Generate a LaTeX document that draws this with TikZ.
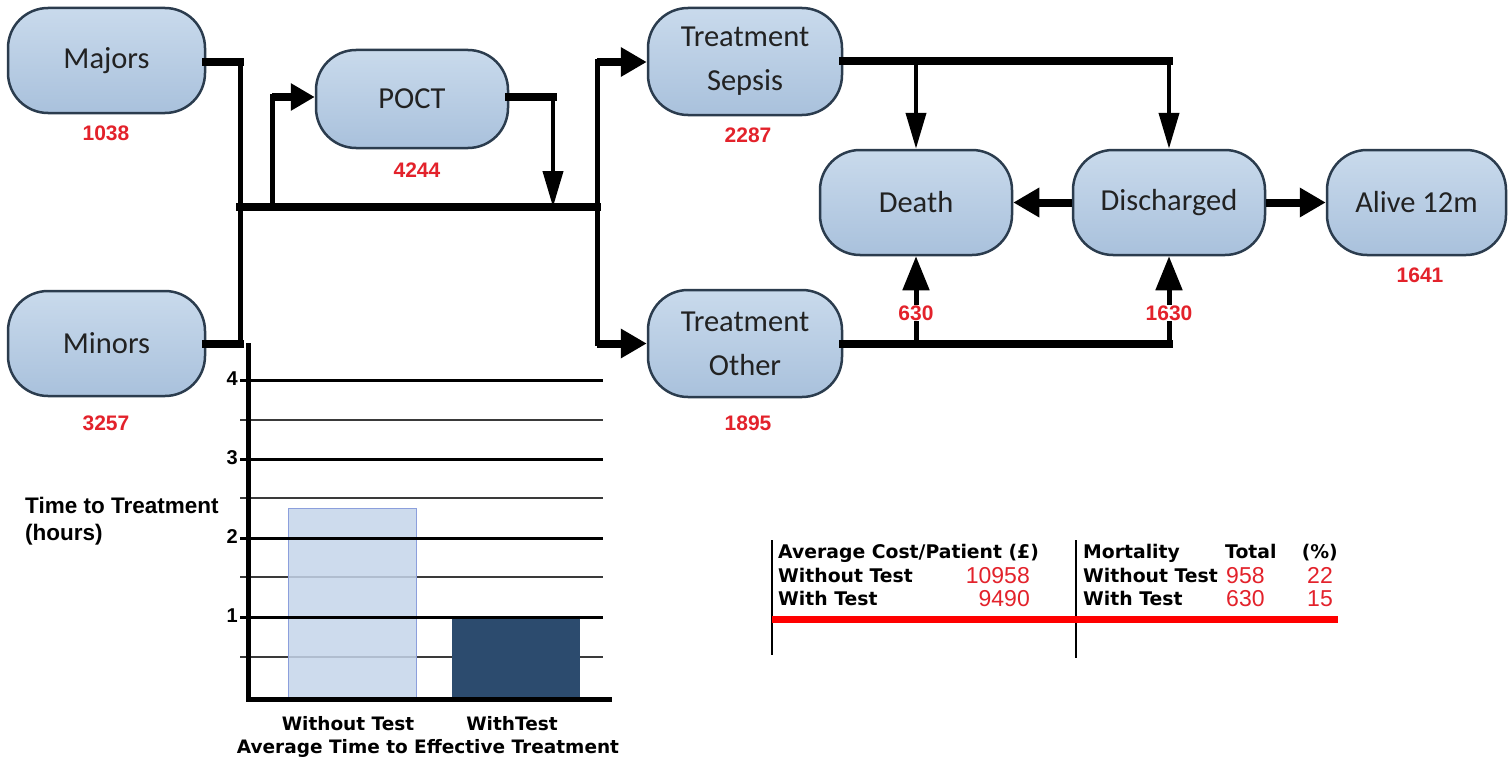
\documentclass[tikz,border=0pt]{standalone}
\usepackage{fontspec}
\setmainfont{Carlito}
\newfontfamily\numfont{Liberation Sans}
\newfontfamily\verdfont{DejaVu Sans}
\usetikzlibrary{arrows.meta}
\definecolor{boxtop}{HTML}{C9DAEC}
\definecolor{boxbot}{HTML}{A9C1DC}
\definecolor{boxline}{HTML}{2B3C4E}
\definecolor{rednum}{HTML}{E3222B}
\definecolor{barlight}{HTML}{C5D5EA}
\definecolor{barlightedge}{HTML}{8C9FDC}
\definecolor{bardark}{HTML}{2C4B6E}
\definecolor{txtdark}{HTML}{222222}
\definecolor{minorgrid}{HTML}{3A3A3A}
\begin{document}
\begin{tikzpicture}[x=1pt,y=-1pt,
  flowbox/.style={draw=boxline, line width=2.5pt, rounded corners=40pt, top color=boxtop, bottom color=boxbot,
    minimum width=195pt, minimum height=105pt, inner sep=0pt, align=center, text=txtdark,
    font=\fontsize{30.5}{44}\selectfont},
  count/.style={text=rednum, font=\numfont\bfseries\fontsize{21}{23}\selectfont, inner sep=1pt},
  hline/.style={line width=8pt, line cap=rect},
  vline/.style={line width=5pt, line cap=rect},
  thickarrow/.style={line width=8pt, -{Triangle[length=26pt,width=28pt]}},
  thinarrow/.style={line width=4pt, -{Triangle[length=36pt,width=20pt]}},
  uparrow/.style={line width=5pt, -{Triangle[length=34pt,width=26pt]}},
  majgrid/.style={line width=3pt},
  mingrid/.style={line width=1.3pt, draw=minorgrid},
  ticklab/.style={font=\numfont\bfseries\fontsize{20}{22}\selectfont, anchor=east, inner sep=1pt},
  chartlab/.style={font=\verdfont\bfseries\fontsize{18.5}{21}\selectfont, inner sep=0pt},
  tabtxt/.style={font=\verdfont\bfseries\fontsize{18.8}{21}\selectfont, inner sep=0pt, anchor=base west},
  tabnum/.style={font=\numfont\fontsize{23}{24}\selectfont, text=rednum, inner sep=0pt},
]
\useasboundingbox (0,0) rectangle (1508,760);
\fill[white] (0,0) rectangle (1508,760);

% ---------- nodes ----------
\node[flowbox, minimum width=197pt] (maj) at (106.5,60.5) {Majors};
\node[flowbox, minimum width=197pt] (min) at (106.5,343.5) {Minors};
\node[flowbox, minimum width=192pt, minimum height=98pt] (poct) at (412,99) {POCT};
\node[flowbox, minimum width=194pt, minimum height=107pt] (sep) at (745,61.5) {Treatment\\Sepsis};
\node[flowbox, minimum width=194pt, minimum height=107pt] (oth) at (745,343.5) {Treatment\\Other};
\node[flowbox, minimum width=192pt] (dea) at (916,202.5) {Death};
\node[flowbox, minimum width=192pt] (dis) at (1169,202.5) {Discharged};
\node[flowbox, minimum width=179pt] (alv) at (1416.5,202.5) {Alive 12m};

\node[count] (cmaj) at (106,133) {1038};
\node[count] (cmin) at (106,423) {3257};
\node[count] (cpoct) at (417,170) {4244};
\node[count] (csep) at (748,135) {2287};
\node[count] (coth) at (748,423) {1895};
\node[count] (calv) at (1420,275) {1641};

% ---------- junctions ----------
\coordinate (a1) at (240,62);
\coordinate (a2) at (240,343.5);
\coordinate (b1) at (240,207);
\coordinate (b2) at (597,207);
\coordinate (p1) at (272,207);
\coordinate (p2) at (272,97);
\coordinate (q1) at (553,97);
\coordinate (q2) at (553,207);
\coordinate (s1) at (597,62);
\coordinate (s2) at (597,343.5);
\coordinate (d1) at (dea.north |- sep.east);
\coordinate (e1) at (dis.north |- sep.east);
\coordinate (d2) at (dea.south |- oth.east);
\coordinate (e2) at (dis.south |- oth.east);

% ---------- connectors ----------
\draw[hline] (maj.east |- a1) -- (a1);
\draw[hline] (min.east) -- (a2);
\draw[vline] (a1) -- (a2);
\draw[hline] (b1) -- (b2);
\draw[vline] (p1) -- (p2);
\draw[line width=7pt, -{Triangle[length=24pt,width=26pt]}] (p2) -- (poct.west |- p2);
\draw[hline] (poct.east |- q1) -- (q1);
\draw[thinarrow] (q1) -- (q2);
\draw[vline] (s1) -- (s2);
\draw[thickarrow] (s1) -- (sep.west |- s1);
\draw[thickarrow] (s2) -- (oth.west);

\draw[hline] (sep.east) -- (e1);
\draw[thinarrow] (d1) -- (dea.north);
\draw[thinarrow] (e1) -- (dis.north);
\draw[hline] (oth.east) -- (e2);
\draw[uparrow] (d2) -- (dea.south) node[count, fill=white, pos=0.35] (c630) {630};
\draw[uparrow] (e2) -- (dis.south) node[count, fill=white, pos=0.35] (c1630) {1630};
\draw[thickarrow] (dis.west) -- (dea.east);
\draw[thickarrow] (dis.east) -- (alv.west);

% ---------- chart ----------
\foreach \yy in {420,498,577,657} \draw[mingrid] (240,\yy) -- (603,\yy);
\fill[bardark] (452,617) rectangle (580,697);
\draw[barlightedge, line width=1pt, fill=barlight, fill opacity=0.85] (288,508) rectangle (416,697);
\foreach \yy in {380,459,538,617} \draw[majgrid] (240,\yy) -- (603,\yy);
\draw[line width=5pt] (248,343) -- (248,699) -- (612,699);
\node[ticklab] (t4) at (239,379) {4};
\node[ticklab] (t3) at (239,458) {3};
\node[ticklab] (t2) at (239,537) {2};
\node[ticklab] (t1) at (239,616) {1};
\node[font=\numfont\bfseries\fontsize{22.5}{27}\selectfont, anchor=west, align=left, inner sep=0pt] (ylab) at (25,521) {Time to Treatment\\(hours)};
\node[chartlab] (xl1) at (348,724) {Without Test};
\node[chartlab] (xl2) at (512,724) {WithTest};
\node[chartlab] (xt) at (428,748) {Average Time to Effective Treatment};

% ---------- table ----------
\draw[line width=2.5pt] (772,540) -- (772,655);
\draw[line width=2.5pt] (1076,540) -- (1076,658);
\draw[line width=7pt, draw=red] (772,619) -- (1338,619);
\node[tabtxt] (h1) at (778,558) {Average Cost/Patient (£)};
\node[tabtxt] (r1) at (778,582) {Without Test};
\node[tabtxt] (r2) at (778,605) {With Test};
\node[tabnum, anchor=base east] (v1) at (1030,583) {10958};
\node[tabnum, anchor=base east] (v2) at (1030,606) {9490};
\node[tabtxt] (h2) at (1083,558) {Mortality};
\node[tabtxt] (h3) at (1225,558) {Total};
\node[tabtxt, anchor=base east] (h4) at (1338,558) {(\%)};
\node[tabtxt] (m1) at (1083,582) {Without Test};
\node[tabtxt] (m2) at (1083,605) {With Test};
\node[tabnum, anchor=base west] (n1) at (1226,583) {958};
\node[tabnum, anchor=base east] (n2) at (1333,583) {22};
\node[tabnum, anchor=base west] (n3) at (1226,606) {630};
\node[tabnum, anchor=base east] (n4) at (1333,606) {15};
\end{tikzpicture}
\end{document}
